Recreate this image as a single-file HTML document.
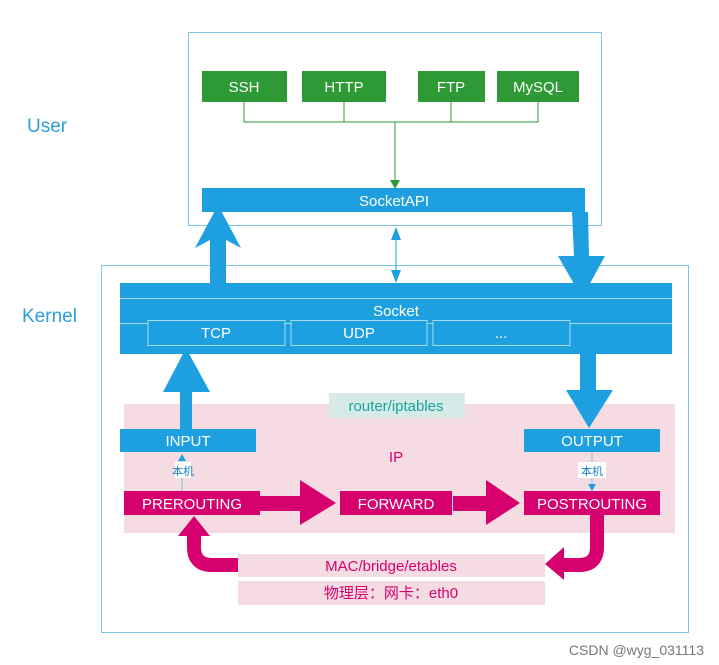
<!DOCTYPE html>
<html><head><meta charset="utf-8"><style>
html,body{margin:0;padding:0;background:#fff;}
svg{display:block;font-family:"Liberation Sans","Noto Sans CJK SC",sans-serif;}
</style></head><body>
<svg width="719" height="665" viewBox="0 0 719 665">
<rect x="188.5" y="32.5" width="413" height="193" fill="none" stroke="#7cc6ea" stroke-width="1"/>
<rect x="101.5" y="265.5" width="587" height="367" fill="none" stroke="#7cc6ea" stroke-width="1"/>
<text x="27" y="132" font-size="19" fill="#2a9fd8">User</text>
<text x="22" y="322" font-size="19" fill="#2a9fd8">Kernel</text>
<g fill="#2e9a35">
<rect x="202" y="71" width="85" height="31"/><rect x="302" y="71" width="84" height="31"/>
<rect x="418" y="71" width="67" height="31"/><rect x="497" y="71" width="82" height="31"/>
</g>
<g fill="#fff" font-size="15" text-anchor="middle">
<text x="244" y="92">SSH</text><text x="344" y="92">HTTP</text><text x="451" y="92">FTP</text><text x="538" y="92">MySQL</text>
</g>
<g stroke="#2e9a35" stroke-width="1" fill="none">
<path d="M244 102V122H538V102M344 102V122M451 102V122M395 122V182"/>
</g>
<polygon points="390,180 400,180 395,189" fill="#2e9a35"/>
<rect x="202" y="188" width="383" height="24" fill="#1ea0e0"/>
<text x="394" y="206" font-size="15" fill="#fff" text-anchor="middle">SocketAPI</text>
<rect x="120" y="283" width="552" height="71" fill="#1ea0e0"/>
<path d="M120 298.5H672M120 323.5H672" stroke="#a9dcf3" stroke-width="1"/>
<g fill="#1ea0e0" stroke="#a9dcf3" stroke-width="1">
<rect x="148" y="320.5" width="137" height="25"/><rect x="291" y="320.5" width="136" height="25"/><rect x="433" y="320.5" width="137" height="25"/>
</g>
<g fill="#fff" font-size="15" text-anchor="middle">
<text x="396" y="316">Socket</text><text x="216" y="338">TCP</text><text x="359" y="338">UDP</text><text x="501" y="338">...</text>
</g>
<!-- up arrow left -->
<polygon points="210,283 226,283 226,240 241,248 218,205 195,248 210,240" fill="#1ea0e0"/>
<!-- down arrow right -->
<polygon points="572,212 588,212 589,256 605,256 582,298 558,256 574,256" fill="#1ea0e0"/>
<!-- double arrow -->
<line x1="396" y1="235" x2="396" y2="276" stroke="#1ea0e0" stroke-width="1"/>
<polygon points="391,240 401,240 396,227" fill="#1ea0e0"/>
<polygon points="391,270 401,270 396,283" fill="#1ea0e0"/>
<!-- IP region -->
<rect x="124" y="404" width="551" height="129" fill="#f5dbe2"/>
<rect x="329" y="393" width="136" height="25" fill="#d6eae8"/>
<text x="396" y="411" font-size="15" fill="#1aa59a" text-anchor="middle">router/iptables</text>
<text x="396" y="462" font-size="15" fill="#d6006e" text-anchor="middle">IP</text>
<!-- TCP up arrow to INPUT -->
<polygon points="180,429 192,429 192,392 210,392 186,348 163,392 180,392" fill="#1ea0e0"/>
<!-- socket down to OUTPUT -->
<polygon points="580,354 596,354 596,390 613,390 589,428 566,390 580,390" fill="#1ea0e0"/>
<rect x="120" y="429" width="136" height="23" fill="#1ea0e0"/>
<rect x="524" y="429" width="136" height="23" fill="#1ea0e0"/>
<text x="188" y="446" font-size="15" fill="#fff" text-anchor="middle">INPUT</text>
<text x="592" y="446" font-size="15" fill="#fff" text-anchor="middle">OUTPUT</text>
<line x1="182" y1="458" x2="182" y2="491" stroke="#7cc6ea"/>
<polygon points="178,461 186,461 182,454" fill="#1ea0e0"/>
<rect x="175" y="462" width="16" height="16" fill="#fff"/>
<text x="183" y="475" font-size="11" fill="#1a7fc0" text-anchor="middle">本机</text>
<line x1="592" y1="452" x2="592" y2="486" stroke="#7cc6ea"/>
<polygon points="588,484 596,484 592,491" fill="#1ea0e0"/>
<rect x="578" y="462" width="28" height="16" fill="#fff"/>
<text x="592" y="475" font-size="11" fill="#1a7fc0" text-anchor="middle">本机</text>
<g fill="#d6006e">
<rect x="124" y="491" width="136" height="24"/><rect x="340" y="491" width="112" height="24"/><rect x="524" y="491" width="136" height="24"/>
<polygon points="260,496 300,496 300,480 336,503 300,525 300,511 260,511"/>
<polygon points="453,496 486,496 486,480 520,503 486,525 486,511 453,511"/>
</g>
<g fill="#fff" font-size="15" text-anchor="middle">
<text x="192" y="509">PREROUTING</text><text x="396" y="509">FORWARD</text><text x="592" y="509">POSTROUTING</text>
</g>
<rect x="238" y="554" width="307" height="23" fill="#f5dbe2"/>
<rect x="238" y="581" width="307" height="24" fill="#f5dbe2"/>
<text x="391" y="571" font-size="15" fill="#d6006e" text-anchor="middle">MAC/bridge/etables</text>
<text x="391" y="598" font-size="15" fill="#d6006e" text-anchor="middle">物理层：网卡：eth0</text>
<path d="M238 565H212Q194 565 194 547V534" fill="none" stroke="#d6006e" stroke-width="14"/>
<polygon points="178,536 210,536 194,516" fill="#d6006e"/>
<path d="M597 515V547Q597 565 579 565H562" fill="none" stroke="#d6006e" stroke-width="14"/>
<polygon points="564,547 564,580 545,564" fill="#d6006e"/>
<text x="704" y="655" font-size="14" fill="#777" text-anchor="end">CSDN @wyg_031113</text>
</svg>
</body></html>
